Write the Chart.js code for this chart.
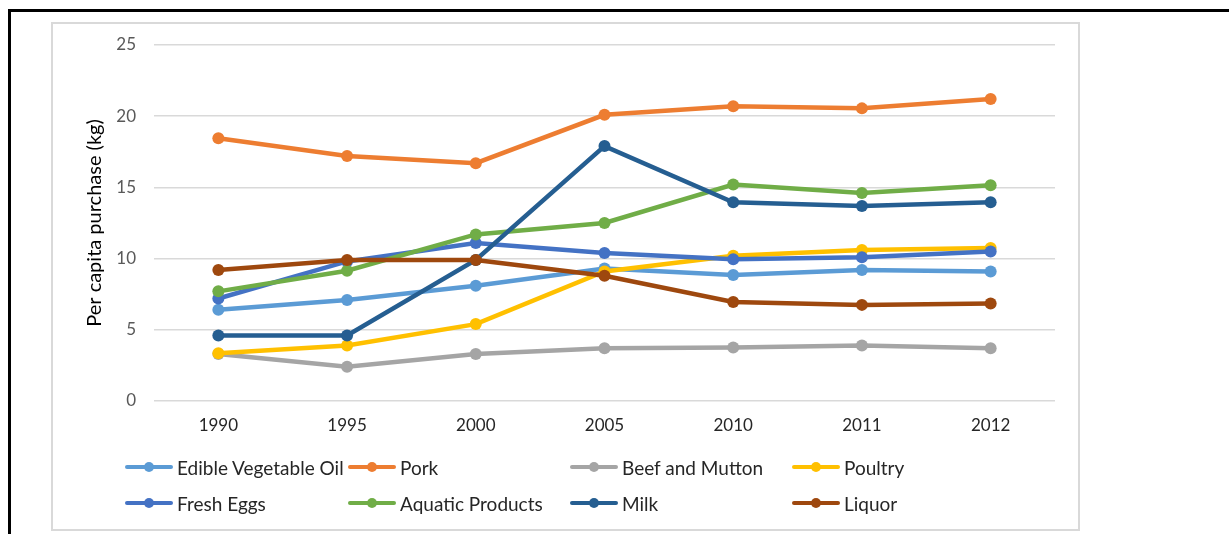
<!DOCTYPE html>
<html>
<head>
<meta charset="utf-8">
<script src="https://cdn.jsdelivr.net/npm/chart.js@4.4.0/dist/chart.umd.min.js"></script>
<style>
  html, body { margin: 0; padding: 0; background: #fff; }
  body { width: 1229px; height: 534px; position: relative; overflow: hidden; font-family: Lato, "Open Sans", sans-serif; }
  .sheet { position: absolute; left: 8px; top: 9px; width: 1240px; height: 540px; border-top: 3px solid #000; border-left: 3px solid #000; }
  .frame { position: absolute; left: 51px; top: 22px; width: 1025px; height: 505px; border: 2px solid #d9d9d9; }
  #chart { position: absolute; left: 0; top: 0; }
  #legend { position: absolute; left: 0; top: 0; width: 1025px; height: 505px; pointer-events: none; }
  .item { position: absolute; height: 20px; display: flex; align-items: center; font-size: 19px; color: #262626; white-space: nowrap; }
  .swatch { position: relative; width: 48px; height: 20px; margin-right: 4px; flex: none; }
  .swatch .ln { position: absolute; left: 0; right: 0; top: 8px; height: 4px; border-radius: 2px; }
  .swatch .dot { position: absolute; left: 19px; top: 5px; width: 10px; height: 10px; border-radius: 50%; }
</style>
</head>
<body>
<div class="sheet"></div>
<div class="frame">
  <canvas id="chart" width="1025" height="505"></canvas>
  <div id="legend"></div>
</div>
<script>
const years = ["1990", "1995", "2000", "2005", "2010", "2011", "2012"];
const yTicks = [0, 5, 10, 15, 20, 25];

const edibleOil = [6.4, 7.1, 8.1, 9.3, 8.85, 9.2, 9.1];
const pork = [18.45, 17.2, 16.7, 20.1, 20.7, 20.55, 21.2];
const beefMutton = [3.3, 2.4, 3.3, 3.7, 3.75, 3.9, 3.7];
const poultry = [3.35, 3.9, 5.4, 9.1, 10.2, 10.6, 10.75];
const freshEggs = [7.2, 9.8, 11.1, 10.4, 9.95, 10.1, 10.5];
const aquatic = [7.7, 9.15, 11.7, 12.5, 15.2, 14.6, 15.15];
const milk = [4.6, 4.6, 9.9, 17.9, 13.95, 13.7, 13.95];
const liquor = [9.2, 9.9, 9.9, 8.8, 6.95, 6.75, 6.85];

const seriesNames = ["Edible Vegetable Oil", "Pork", "Beef and Mutton", "Poultry", "Fresh Eggs", "Aquatic Products", "Milk", "Liquor"];
const seriesData = [edibleOil, pork, beefMutton, poultry, freshEggs, aquatic, milk, liquor];
const seriesColors = ["#5b9bd5", "#ed7d31", "#a5a5a5", "#ffc000", "#4472c4", "#70ad47", "#255e91", "#9e480e"];

// legend grid: 4 columns, 2 rows
const legendCols = [72, 295, 517, 739];
const legendRows = [433, 469];

const datasets = seriesNames.map((name, i) => ({
  label: name,
  data: seriesData[i],
  borderColor: seriesColors[i],
  backgroundColor: seriesColors[i],
  borderWidth: 4.5,
  pointRadius: 6,
  pointHoverRadius: 6,
  pointBorderWidth: 0,
  tension: 0,
  // later series on top
  order: seriesNames.length - i,
}));

const chart = new Chart(document.getElementById("chart"), {
  type: "line",
  data: { labels: years, datasets },
  options: {
    responsive: false,
    animation: false,
    layout: { padding: { top: 21, right: 23, bottom: 0, left: 0 } },
    plugins: { legend: { display: false }, tooltip: { enabled: false } },
    scales: {
      x: {
        offset: true,
        grid: { display: false, drawTicks: false },
        border: { display: false },
        ticks: { color: "#262626", padding: 14, font: { family: "Lato", size: 17 } },
        afterFit: (scale) => { scale.height = 128; },
      },
      y: {
        min: 0,
        max: 25,
        afterBuildTicks: (scale) => { scale.ticks = yTicks.map((v) => ({ value: v })); },
        grid: { color: "#d9d9d9", lineWidth: 1.5, drawTicks: false },
        border: { display: false },
        ticks: { color: "#595959", padding: 18, font: { family: "Lato", size: 17 } },
        title: {
          display: true,
          text: "Per capita purchase (kg)",
          color: "#000",
          padding: { top: 30, bottom: 0 },
          font: { family: "Lato", size: 20 },
        },
        afterFit: (scale) => {
          scale.width = 101;
          // tick padding would otherwise push the plot area down
          scale.paddingTop = 0;
          scale.paddingBottom = 0;
        },
      },
    },
  },
});

const legend = document.getElementById("legend");
chart.data.datasets.forEach((ds, i) => {
  const item = document.createElement("div");
  item.className = "item";
  item.style.left = legendCols[i % 4] + "px";
  item.style.top = legendRows[Math.floor(i / 4)] + "px";
  item.innerHTML = `<span class="swatch"><span class="ln" style="background:${ds.borderColor}"></span><span class="dot" style="background:${ds.borderColor}"></span></span>${ds.label}`;
  legend.appendChild(item);
});
</script>
</body>
</html>
